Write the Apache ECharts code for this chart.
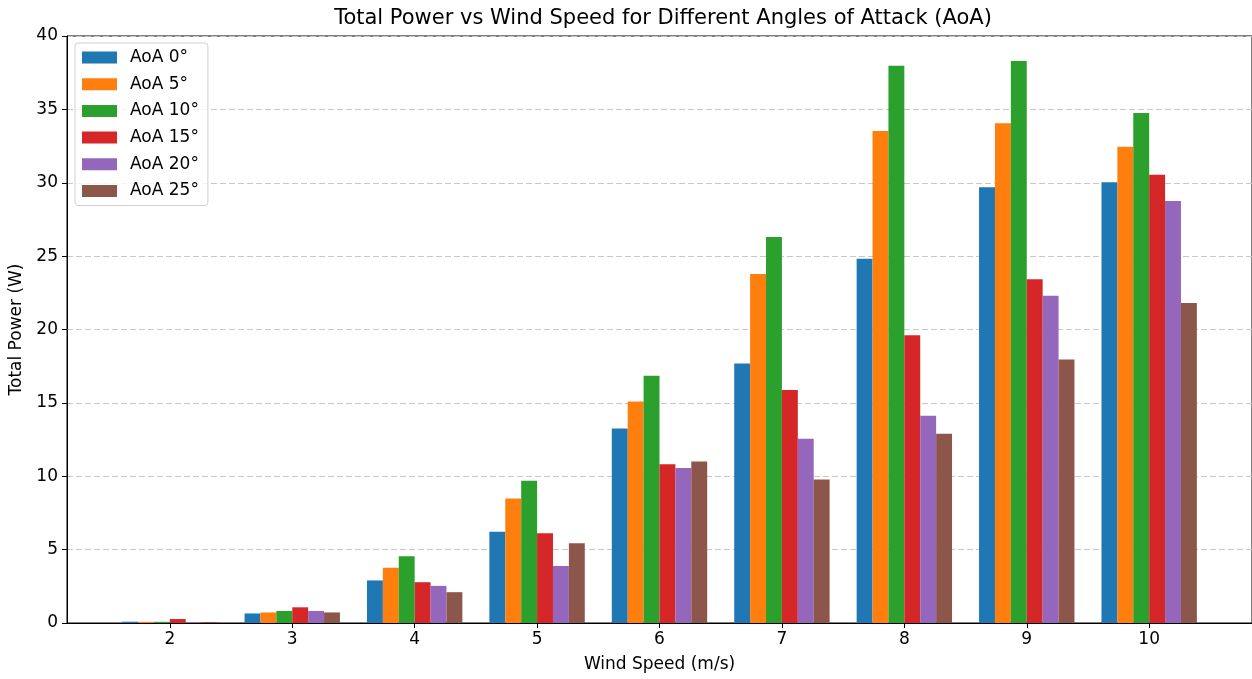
<!DOCTYPE html>
<html>
<head>
<meta charset="utf-8">
<script src="https://cdn.jsdelivr.net/npm/echarts@6/dist/echarts.min.js"></script>
<style>
  html, body { margin: 0; padding: 0; background: #fff; }
  #chart { width: 1252px; height: 679px; }
</style>
</head>
<body>
<div id="chart"></div>
<script>
const windSpeeds = [2, 3, 4, 5, 6, 7, 8, 9, 10];
const yTicks = [0, 5, 10, 15, 20, 25, 30, 35, 40];
const seriesNames = ['AoA 0°', 'AoA 5°', 'AoA 10°', 'AoA 15°', 'AoA 20°', 'AoA 25°'];
const aoa0  = [0.09, 0.65, 2.90, 6.21, 13.26, 17.69, 24.82, 29.70, 30.03];
const aoa5  = [0.08, 0.72, 3.76, 8.49, 15.10, 23.78, 33.52, 34.05, 32.45];
const aoa10 = [0.08, 0.82, 4.55, 9.69, 16.84, 26.30, 37.98, 38.30, 34.75];
const aoa15 = [0.27, 1.07, 2.78, 6.12, 10.82, 15.87, 19.60, 23.42, 30.55];
const aoa20 = [0.06, 0.82, 2.53, 3.89, 10.57, 12.55, 14.12, 22.30, 28.75];
const aoa25 = [0.07, 0.72, 2.10, 5.44, 11.01, 9.78, 12.89, 17.96, 21.80];
const colors = ['#1f77b4', '#ff7f0e', '#2ca02c', '#d62728', '#9467bd', '#8c564b'];

const allValues = [aoa0, aoa5, aoa10, aoa15, aoa20, aoa25];
const font = 'DejaVu Sans';

const chart = echarts.init(document.getElementById('chart'), null, { renderer: 'canvas' });
const series = allValues.map((vals, i) => ({
  name: seriesNames[i],
  type: 'bar',
  data: vals.map((v, j) => [windSpeeds[j], v]),
  barWidth: 15.9,
  barGap: '0%',
  itemStyle: { color: colors[i] },
  emphasis: { disabled: true }
}));

chart.setOption({
  animation: false,
  backgroundColor: '#ffffff',
  title: {
    text: 'Total Power vs Wind Speed for Different Angles of Attack (AoA)',
    left: 658, top: 3, textAlign: 'center',
    textStyle: { fontFamily: font, fontSize: 21, fontWeight: 'normal', color: '#000' }
  },
  legend: {
    data: seriesNames,
    orient: 'vertical',
    left: 75, top: 43,
    icon: 'rect',
    itemWidth: 35, itemHeight: 12,
    itemGap: 9.7,
    padding: [6, 9, 6, 7],
    borderColor: '#d0d0d0', borderWidth: 1, borderRadius: 3,
    backgroundColor: 'rgba(255,255,255,0.8)',
    textStyle: { fontFamily: font, fontSize: 17, color: '#000', lineHeight: 17, padding: [0, 0, 0, 8] }
  },
  grid: {
    left: 65, right: 0, top: 36, bottom: 56,
    show: true, borderColor: '#000', borderWidth: 1, backgroundColor: 'transparent'
  },
  xAxis: {
    type: 'value',
    min: 1.16, max: 10.84,
    name: 'Wind Speed (m/s)',
    nameLocation: 'middle', nameGap: 33,
    nameTextStyle: { fontFamily: font, fontSize: 17, color: '#000' },
    axisLine: { show: true, lineStyle: { color: '#000', width: 1 } },
    axisTick: { show: true, length: 5, lineStyle: { color: '#000' }, customValues: windSpeeds },
    axisLabel: { fontFamily: font, fontSize: 17, color: '#000', margin: 8, customValues: windSpeeds },
    splitLine: { show: false }
  },
  yAxis: {
    type: 'value',
    min: 0, max: 40, interval: 5,
    name: 'Total Power (W)',
    nameLocation: 'middle', nameGap: 42, nameRotate: 90,
    nameTextStyle: { fontFamily: font, fontSize: 17, color: '#000' },
    axisLine: { show: true, lineStyle: { color: '#000', width: 1 } },
    axisTick: { show: true, length: 5, lineStyle: { color: '#000' } },
    axisLabel: { fontFamily: font, fontSize: 17, color: '#000', margin: 9,
      formatter: v => (yTicks.indexOf(v) >= 0 ? String(v) : '') },
    splitLine: { show: true, lineStyle: { color: '#c8c8c8', width: 1, type: [6, 3] } }
  },
  series: series
});
</script>
</body>
</html>
